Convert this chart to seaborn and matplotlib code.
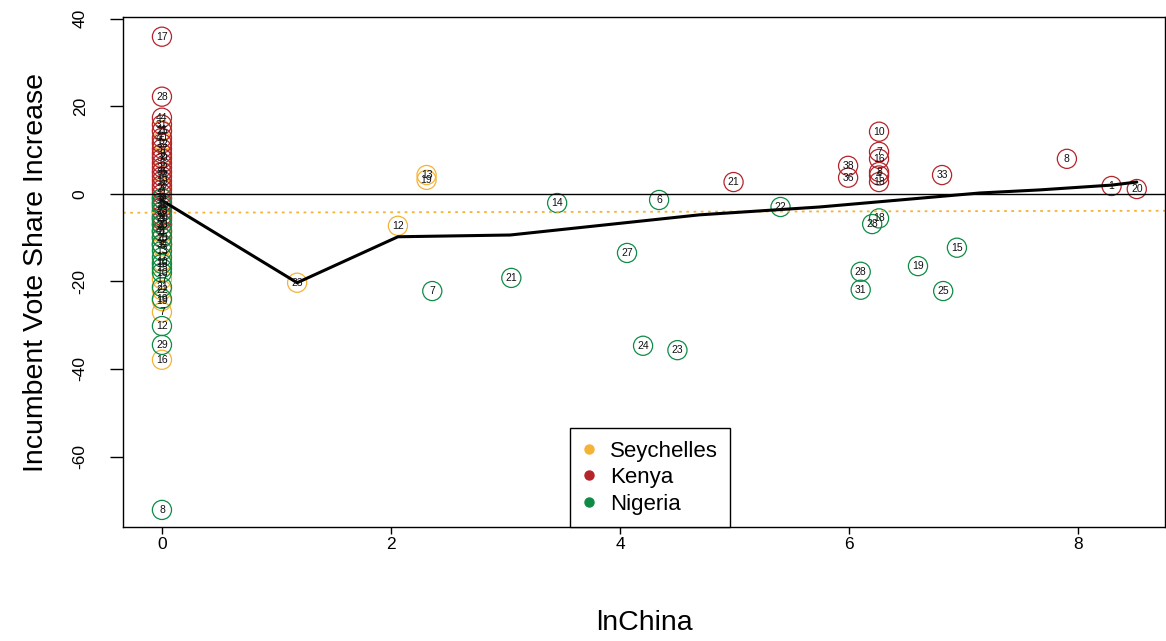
import numpy as np
import pandas as pd
import matplotlib
matplotlib.use("Agg")
import matplotlib.pyplot as plt
import seaborn as sns
from matplotlib.lines import Line2D

# ---------------- data ----------------
countries = ["Seychelles", "Kenya", "Nigeria"]
colors = {"Seychelles": "#F5B335", "Kenya": "#B5242A", "Nigeria": "#0E8C45"}

sey_x = [0, 0, 0, 0, 0, 0, 0, 0, 0, 0, 0, 0, 0, 0, 0, 1.18, 2.06, 2.31, 2.31]
sey_y = [14.5, 12.0, 8.5, 5.0, 1.5, -2.0, -5.5, -9.0, -12.0, -15.5, -19.5, -22.0, -24.5, -27.0, -37.9,
         -20.3, -7.3, 4.3, 3.2]
sey_lab = ["11", "5", "2", "9", "3", "15", "20", "4", "6", "10", "17", "22", "19", "7", "16",
           "23", "12", "13", "19"]

ken_x = [0] * 28 + [4.99, 5.99, 5.99, 6.26, 6.26, 6.26, 6.26, 6.26, 6.26, 6.81, 7.90, 8.29, 8.51]
ken_y = [35.9, 22.2, 17.4, 15.8, 14.3, 12.8, 11.5, 10.3, 9.2, 8.1, 7.0, 6.0, 5.0, 4.0, 3.0, 2.0,
         1.0, 0.0, -1.0, -2.0, -3.0, -4.0, -5.0, -6.0, -7.0, -8.5, -10.0, -11.5,
         2.7, 6.4, 3.7, 14.2, 9.6, 8.0, 5.0, 4.2, 2.7, 4.3, 8.0, 1.8, 1.1]
ken_lab = ["17", "28", "44", "31", "25", "40", "12", "37", "9", "30", "6", "22", "35", "14", "19", "2",
           "27", "11", "39", "5", "24", "13", "32", "3", "26", "41", "15", "34",
           "21", "38", "36", "10", "7", "16", "8", "4", "18", "33", "8", "1", "20"]

nig_x = [0] * 18 + [2.36, 3.05, 3.45, 4.34, 4.06, 4.20, 4.50, 5.40, 6.10, 6.10, 6.60, 6.94, 6.82, 6.20, 6.26]
nig_y = [-1.0, -2.5, -4.0, -5.5, -7.0, -8.5, -10.0, -11.5, -13.0, -14.5, -16.0, -17.0, -18.0,
         -21.3, -24.0, -30.2, -34.5, -72.2,
         -22.2, -19.2, -2.1, -1.4, -13.5, -34.7, -35.7, -3.0, -17.8, -21.9, -16.5, -12.3, -22.2, -6.9, -5.6]
nig_lab = ["3", "9", "26", "11", "30", "5", "20", "4", "13", "17", "16", "15", "10",
           "21", "19", "12", "29", "8",
           "7", "21", "14", "6", "27", "24", "23", "22", "28", "31", "19", "15", "25", "28", "18"]

# smoothed fit line
fit_x = [0.0, 1.18, 2.06, 3.04, 4.69, 5.74, 7.14, 7.66, 8.29, 8.51]
fit_y = [-1.5, -20.3, -9.8, -9.4, -4.8, -3.0, 0.2, 0.9, 2.0, 2.7]

# reference (dotted) line: intercept, slope
ref_a, ref_b = -4.3, 0.05

df = pd.concat([
    pd.DataFrame({"lnChina": sey_x, "vote": sey_y, "label": sey_lab, "country": "Seychelles"}),
    pd.DataFrame({"lnChina": ken_x, "vote": ken_y, "label": ken_lab, "country": "Kenya"}),
    pd.DataFrame({"lnChina": nig_x, "vote": nig_y, "label": nig_lab, "country": "Nigeria"}),
], ignore_index=True)

# ---------------- plot ----------------
sns.set_style("white")
plt.rcParams["font.family"] = ["Liberation Sans", "DejaVu Sans"]
plt.rcParams["axes.unicode_minus"] = False
plt.rcParams["text.color"] = "black"
plt.rcParams["axes.labelcolor"] = "black"
plt.rcParams["xtick.color"] = "black"
plt.rcParams["ytick.color"] = "black"

fig = plt.figure(figsize=(11.66, 6.41), dpi=100)
ax = fig.add_axes([123 / 1166, 1 - 527 / 641, 1 - 123 / 1166 - 0.0005, (527 - 17) / 641])

xlim = (-0.34, 8.76)
ylim = (-76.1, 40.4)

sns.scatterplot(data=df, x="lnChina", y="vote", hue="country", palette=colors,
                hue_order=countries, s=190, marker="o", linewidth=0.9, ax=ax, legend=False)
coll = ax.collections[0]
fc = coll.get_facecolors()
coll.set_edgecolors(fc)
coll.set_facecolors("none")

for _, r in df.iterrows():
    ax.text(r["lnChina"], r["vote"], r["label"], ha="center", va="center",
            fontsize=7.5, color="#111111", zorder=4)

ax.axhline(0, color="black", lw=1.0, zorder=1)
ax.plot(list(xlim), [ref_a + ref_b * xlim[0], ref_a + ref_b * xlim[1]],
        color="#F5B335", lw=1.3, ls=(0, (1.5, 2.5)), zorder=1)
sns.lineplot(x=fit_x, y=fit_y, color="black", lw=2.2, ax=ax, sort=False, estimator=None, zorder=3)

ax.set_xlim(*xlim)
ax.set_ylim(*ylim)
ax.set_xticks([0, 2, 4, 6, 8])
ax.set_yticks([-60, -40, -20, 0, 20, 40])
ax.tick_params(axis="x", length=5, width=1, pad=2, labelsize=12.5, direction="out", bottom=True,
               colors="black")
ax.tick_params(axis="y", length=9.4, width=1, pad=16, labelsize=12.5, direction="out", left=True,
               colors="black")
for lab in ax.get_yticklabels():
    lab.set_rotation(90)
    lab.set_va("center")

for sp in ax.spines.values():
    sp.set_color("black")
    sp.set_linewidth(1.0)

ax.set_xlabel("lnChina", fontsize=20.5, labelpad=42, color="black")
ax.set_ylabel("Incumbent Vote Share Increase", fontsize=20.5, labelpad=17, color="black")

handles = [Line2D([0], [0], marker="o", ls="none", color=colors[c], markersize=6.5) for c in countries]
leg = ax.legend(handles, countries, loc="lower left", bbox_to_anchor=(0.4286, 0.0),
                frameon=True, fancybox=False, edgecolor="black", framealpha=1,
                fontsize=16, handletextpad=0.65, labelspacing=0.25, borderpad=0.55,
                handlelength=0.6, borderaxespad=0)
leg.get_frame().set_linewidth(1.0)
for t in leg.get_texts():
    t.set_color("black")

fig.savefig("out.png", dpi=100)
